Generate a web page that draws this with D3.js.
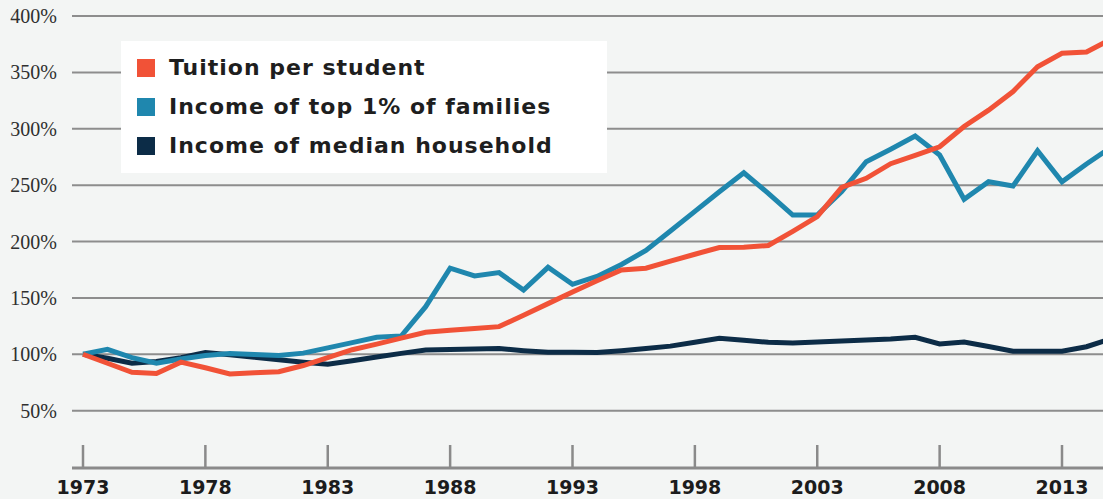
<!DOCTYPE html>
<html>
<head>
<meta charset="utf-8">
<title>Tuition vs income</title>
<script src="https://d3js.org/d3.v7.min.js"></script>
<style>
  body { margin: 0; background: #f3f5f4; }
  svg { display: block; }
</style>
</head>
<body>
<div id="chart"></div>
<script>
// values, 1973 = 100%
var years = d3.range(1973, 2016);

var tuition = [100, 92, 84, 83, 93, 88, 82.5, 83.5, 84.5, 90, 97, 104, 109, 114.3, 119.5,
  121.2, 122.9, 124.5, 134.5, 144.9, 155.3, 165.2, 174.7, 176.3, 182.6, 188.7, 194.7, 195,
  196.5, 209, 222, 248, 256, 269, 276.3, 284, 302, 316.5, 333, 355, 367, 368, 379.4];

var topOne = [100, 104.3, 97, 92, 95.8, 98.8, 100.7, 99.8, 98.9, 101, 105.7, 110.3, 115, 116.2,
  142.2, 176.3, 169.4, 172.4, 157, 177.1, 162, 169, 179.6, 192.1, 209.3, 226.7, 244.1, 261,
  242.7, 223.5, 223.5, 244.2, 270.8, 281.9, 293.6, 276.7, 237.4, 253, 249.2, 280.5, 253, 268.7, 283.6];

var median = [100, 96.5, 92, 93.5, 97, 101.5, 99.6, 97.4, 95.2, 93, 91.1, 94.3, 97.5, 100.8,
  103.8, 104.3, 104.7, 105, 103.2, 101.8, 101.8, 101.6, 103.1, 105, 107.2, 110.7, 114.2, 112.4,
  110.6, 110, 110.9, 111.8, 112.7, 113.6, 115.1, 109.1, 110.9, 106.9, 102.7, 102.7, 102.7, 106.7, 113.6];

var seriesNames = ["Tuition per student", "Income of top 1% of families", "Income of median household"];
var seriesColors = ["#f15237", "#1f87ae", "#0c2c47"];
var yTicks = [50, 100, 150, 200, 250, 300, 350, 400];
var xTicks = [1973, 1978, 1983, 1988, 1993, 1998, 2003, 2008, 2013];

var width = 1103, height = 499;

var svg = d3.select("#chart").append("svg")
  .attr("width", width)
  .attr("height", height);

svg.append("rect").attr("width", width).attr("height", height).attr("fill", "#f3f5f4");

var x = d3.scaleLinear().domain([1973, 2013]).range([83, 1062]);
var y = d3.scaleLinear().domain([0, 400]).range([467, 16]);

// gridlines
svg.append("g").selectAll("line")
  .data(yTicks)
  .enter().append("line")
    .attr("x1", 72).attr("x2", width)
    .attr("y1", function(d) { return y(d); })
    .attr("y2", function(d) { return y(d); })
    .attr("stroke", "#8d8d8d")
    .attr("stroke-width", 2);

// y labels
svg.append("g").selectAll("text")
  .data(yTicks)
  .enter().append("text")
    .attr("x", 57)
    .attr("y", function(d) { return y(d); })
    .attr("dy", "0.35em")
    .attr("text-anchor", "end")
    .attr("font-family", "Liberation Serif, serif")
    .attr("font-size", 20)
    .attr("fill", "#2f2f2f")
    .text(function(d) { return d + "%"; });

// bottom axis
var xAxis = svg.append("g");
xAxis.append("line")
  .attr("x1", 72).attr("x2", width)
  .attr("y1", y(0) + 1).attr("y2", y(0) + 1)
  .attr("stroke", "#8a8a8a").attr("stroke-width", 3);
xAxis.selectAll(".tick")
  .data(xTicks)
  .enter().append("line")
    .attr("x1", function(d) { return x(d); })
    .attr("x2", function(d) { return x(d); })
    .attr("y1", 445).attr("y2", y(0))
    .attr("stroke", "#8a8a8a").attr("stroke-width", 2.5);
xAxis.selectAll("text")
  .data(xTicks)
  .enter().append("text")
    .attr("x", function(d) { return x(d); })
    .attr("y", 494)
    .attr("text-anchor", "middle")
    .attr("font-family", "DejaVu Sans, sans-serif")
    .attr("font-weight", "bold")
    .attr("font-size", 19)
    .attr("fill", "#1c1c1c")
    .text(function(d) { return d; });

// lines
svg.append("clipPath").attr("id", "plot")
  .append("rect").attr("x", 72).attr("y", 0).attr("width", width - 72).attr("height", 470);

var line = d3.line()
  .x(function(d, i) { return x(years[i]); })
  .y(function(d) { return y(d); });

var lines = svg.append("g").attr("clip-path", "url(#plot)");
[median, topOne, tuition].forEach(function(s, k) {
  var c = [seriesColors[2], seriesColors[1], seriesColors[0]][k];
  lines.append("path")
    .datum(s)
    .attr("d", line)
    .attr("fill", "none")
    .attr("stroke", c)
    .attr("stroke-width", 5)
    .attr("stroke-linejoin", "miter")
    .attr("stroke-miterlimit", 3);
});

// legend
var legend = svg.append("g");
legend.append("rect")
  .attr("x", 121).attr("y", 41)
  .attr("width", 486).attr("height", 132)
  .attr("fill", "#ffffff");
var rows = legend.selectAll(".row")
  .data(seriesNames)
  .enter().append("g")
    .attr("transform", function(d, i) { return "translate(137," + (59 + i * 39) + ")"; });
rows.append("rect")
  .attr("width", 18).attr("height", 18)
  .attr("fill", function(d, i) { return seriesColors[i]; });
rows.append("text")
  .attr("x", 32).attr("y", 16)
  .attr("font-family", "DejaVu Sans, sans-serif")
  .attr("font-weight", "bold")
  .attr("font-size", 22)
  .attr("letter-spacing", 1)
  .attr("fill", "#1e1e1e")
  .text(function(d) { return d; });
</script>
</body>
</html>
